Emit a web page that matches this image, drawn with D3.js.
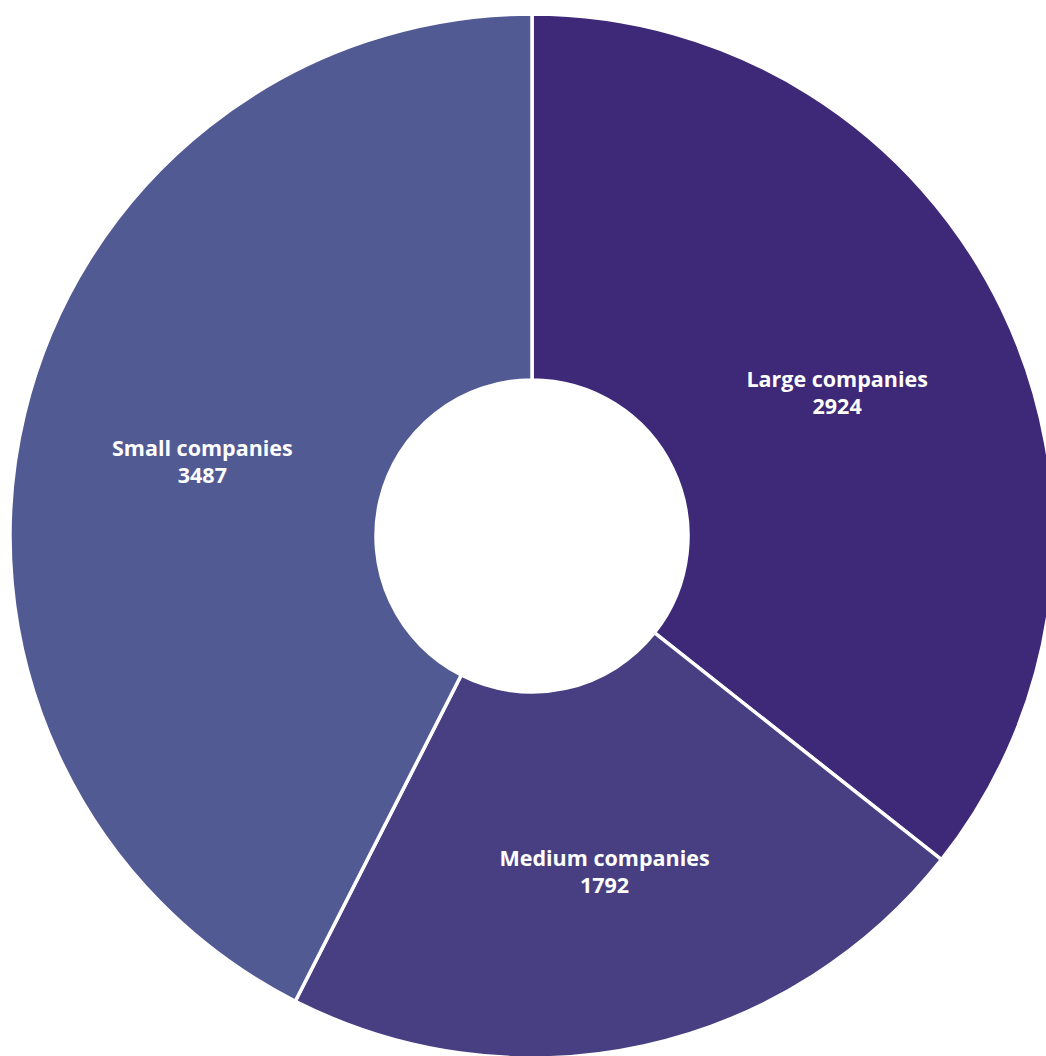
<!DOCTYPE html>
<html>
<head>
<meta charset="utf-8">
<script src="https://cdn.jsdelivr.net/npm/d3@7"></script>
<style>
  html, body { margin: 0; padding: 0; background: #ffffff; overflow: hidden; }
  svg { display: block; }
  text { font-family: "Open Sans", Lato, sans-serif; font-weight: 700; fill: #ffffff; }
</style>
</head>
<body>
<svg id="chart" width="1046" height="1056"></svg>
<script>
const categories = ["Large companies", "Medium companies", "Small companies"];
const values = [2924, 1792, 3487];
const colors = ["#3e2878", "#483f82", "#525a94"];

const svg = d3.select("#chart");
const cx = 532, cy = 536;
const outerR = 522, innerR = 156;

const data = categories.map((c, i) => ({ name: c, value: values[i], color: colors[i] }));

const pie = d3.pie().value(d => d.value).sort(null);
const arc = d3.arc().innerRadius(innerR).outerRadius(outerR);

const g = svg.append("g").attr("transform", `translate(${cx},${cy})`);
const arcs = pie(data);

g.selectAll("path.slice")
  .data(arcs)
  .join("path")
  .attr("class", "slice")
  .attr("d", arc)
  .attr("fill", d => d.data.color)
  .attr("stroke", "#ffffff")
  .attr("stroke-width", 3.5)
  .attr("stroke-linejoin", "miter");

const labels = g.selectAll("text.lbl")
  .data(arcs)
  .join("text")
  .attr("class", "lbl")
  .attr("text-anchor", "middle")
  .attr("font-size", 21.5)
  .attr("transform", d => { const [x, y] = arc.centroid(d); return `translate(${x},${y})`; });

labels.append("tspan").attr("x", 0).attr("y", -1).text(d => d.data.name);
labels.append("tspan").attr("x", 0).attr("y", 26).text(d => d.data.value);
</script>
</body>
</html>
